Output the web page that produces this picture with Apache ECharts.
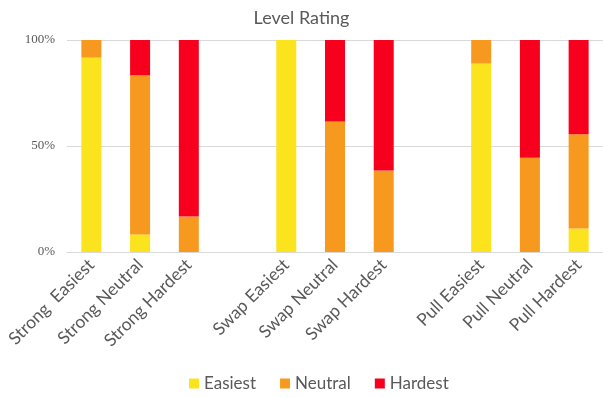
<!DOCTYPE html>
<html>
<head>
<meta charset="utf-8">
<title>Level Rating</title>
<script src="https://cdn.jsdelivr.net/npm/echarts@6/dist/echarts.min.js"></script>
<style>
  html, body { margin: 0; padding: 0; background: #ffffff; }
  #chart { width: 603px; height: 398px; }
</style>
</head>
<body>
<div id="chart"></div>
<script>
// Categories; empty strings leave a blank slot between the three groups
const categories = [
  'Strong  Easiest', 'Strong Neutral', 'Strong Hardest', '',
  'Swap Easiest', 'Swap Neutral', 'Swap Hardest', '',
  'Pull Easiest', 'Pull Neutral', 'Pull Hardest'
];

// Share of ratings per level (percent)
const easiest = [91.7, 8.3, 0, '-', 100, 0, 0, '-', 88.9, 0, 11.1];
const neutral = [8.3, 75.0, 16.7, '-', 0, 61.5, 38.5, '-', 11.1, 44.4, 44.4];
const hardest = [0, 16.7, 83.3, '-', 0, 38.5, 61.5, '-', 0, 55.6, 44.5];

const yTicks = [0, 50, 100];

const colors = { easiest: '#FBE31E', neutral: '#F8991F', hardest: '#F7001E' };

const chart = echarts.init(document.getElementById('chart'), null, { renderer: 'canvas' });

function barSeries(name, data, color) {
  return {
    name: name,
    type: 'bar',
    stack: 'rating',
    data: data,
    barWidth: 20,
    itemStyle: { color: color },
    emphasis: { disabled: true }
  };
}

chart.setOption({
  animation: false,
  title: {
    text: 'Level Rating',
    left: 'center',
    top: 4,
    textStyle: { fontFamily: 'Lato', fontSize: 18, fontWeight: 'normal', color: '#595959' }
  },
  legend: {
    bottom: 1,
    left: 184,
    icon: 'rect',
    itemWidth: 10,
    itemHeight: 10,
    itemGap: 24,
    textStyle: { fontFamily: 'Lato', fontSize: 17, color: '#595959' },
    data: ['Easiest', 'Neutral', 'Hardest']
  },
  grid: { left: 67, right: -5, top: 40, bottom: 146, containLabel: false },
  xAxis: {
    type: 'category',
    data: categories,
    axisTick: { show: false },
    axisLine: { lineStyle: { color: '#d9d9d9', width: 1 } },
    axisLabel: {
      interval: 0,
      rotate: 45,
      margin: 10,
      fontFamily: 'Lato',
      fontSize: 17.5,
      color: '#595959'
    }
  },
  yAxis: {
    type: 'value',
    min: yTicks[0],
    max: yTicks[yTicks.length - 1],
    interval: yTicks[1] - yTicks[0],
    axisLine: { show: false },
    axisTick: { show: false },
    splitLine: { lineStyle: { color: '#d9d9d9', width: 1 } },
    axisLabel: {
      formatter: '{value}%',
      margin: 12,
      fontFamily: 'Liberation Serif',
      fontSize: 13,
      color: '#595959'
    }
  },
  series: [
    barSeries('Easiest', easiest, colors.easiest),
    barSeries('Neutral', neutral, colors.neutral),
    barSeries('Hardest', hardest, colors.hardest)
  ]
});
</script>
</body>
</html>
